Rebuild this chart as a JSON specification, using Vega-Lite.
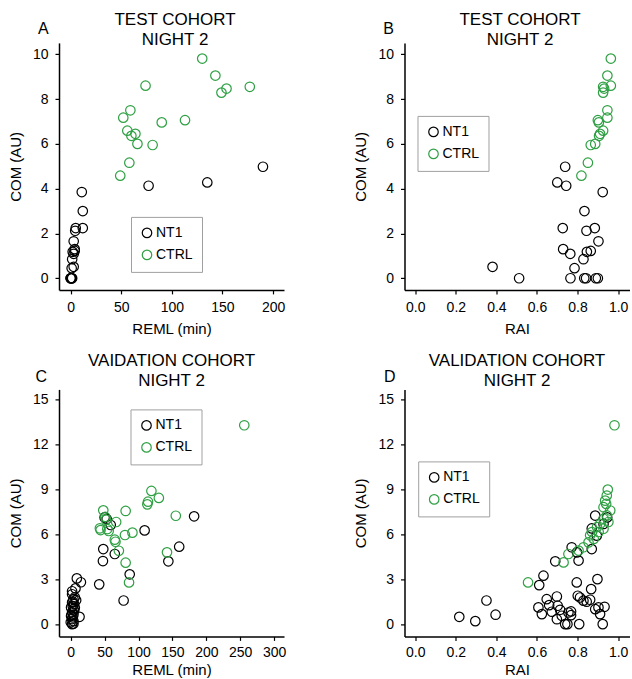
{
  "$schema": "https://vega.github.io/schema/vega-lite/v6.json",
  "padding": {"left": 8, "top": 10.9, "right": 0, "bottom": 0},
  "config": {
    "font": "Liberation Sans",
    "view": {"stroke": null},
    "axis": {"domainColor": "#000", "domainWidth": 1.5, "tickColor": "#000", "tickWidth": 1.2, "tickSize": 4, "labelFont": "Liberation Sans", "labelFontSize": 14, "labelColor": "#000", "labelPadding": 7, "titleFont": "Liberation Sans", "titleFontSize": 15, "titleFontWeight": "normal", "titleColor": "#000", "grid": false, "labelFlush": false, "labelOverlap": false},
    "axisX": {"titlePadding": 7},
    "axisY": {"titlePadding": 9},
    "title": {"font": "Liberation Sans", "fontSize": 17, "fontWeight": "normal", "color": "#000", "lineHeight": 20, "frame": "group", "anchor": "middle"},
    "legend": {"labelFont": "Liberation Sans", "labelFontSize": 14, "labelColor": "#000", "symbolType": "circle", "symbolSize": 90, "symbolStrokeWidth": 1.2, "fillColor": "#fff", "strokeColor": "#a0a0a0", "padding": 9, "rowPadding": 6, "labelOffset": 2}
  },
  "datasets": {
    "test": [
      {"g": "NT1", "REML": 190, "RAI": 0.739, "COM": 4.98},
      {"g": "NT1", "REML": 135, "RAI": 0.700, "COM": 4.28},
      {"g": "NT1", "REML": 77, "RAI": 0.744, "COM": 4.13},
      {"g": "NT1", "REML": 11, "RAI": 0.924, "COM": 3.85},
      {"g": "NT1", "REML": 12, "RAI": 0.834, "COM": 3.00},
      {"g": "NT1", "REML": 12, "RAI": 0.727, "COM": 2.24},
      {"g": "NT1", "REML": 5, "RAI": 0.885, "COM": 2.24},
      {"g": "NT1", "REML": 4.5, "RAI": 0.844, "COM": 2.12},
      {"g": "NT1", "REML": 3, "RAI": 0.903, "COM": 1.65},
      {"g": "NT1", "REML": 4, "RAI": 0.729, "COM": 1.30},
      {"g": "NT1", "REML": 4, "RAI": 0.865, "COM": 1.22},
      {"g": "NT1", "REML": 2, "RAI": 0.846, "COM": 1.18},
      {"g": "NT1", "REML": 3, "RAI": 0.764, "COM": 1.09},
      {"g": "NT1", "REML": 1.5, "RAI": 0.829, "COM": 0.85},
      {"g": "NT1", "REML": 3, "RAI": 0.381, "COM": 0.51},
      {"g": "NT1", "REML": 1, "RAI": 0.785, "COM": 0.45},
      {"g": "NT1", "REML": 0, "RAI": 0.512, "COM": 0},
      {"g": "NT1", "REML": 1, "RAI": 0.765, "COM": 0},
      {"g": "NT1", "REML": 0.5, "RAI": 0.833, "COM": 0},
      {"g": "NT1", "REML": 1.5, "RAI": 0.842, "COM": 0},
      {"g": "NT1", "REML": 0, "RAI": 0.890, "COM": 0},
      {"g": "NT1", "REML": 1, "RAI": 0.900, "COM": 0},
      {"g": "CTRL", "REML": 130, "RAI": 0.964, "COM": 9.81},
      {"g": "CTRL", "REML": 143, "RAI": 0.947, "COM": 9.05},
      {"g": "CTRL", "REML": 74, "RAI": 0.964, "COM": 8.60},
      {"g": "CTRL", "REML": 177, "RAI": 0.926, "COM": 8.55},
      {"g": "CTRL", "REML": 154, "RAI": 0.931, "COM": 8.47},
      {"g": "CTRL", "REML": 149, "RAI": 0.926, "COM": 8.29},
      {"g": "CTRL", "REML": 59, "RAI": 0.947, "COM": 7.50},
      {"g": "CTRL", "REML": 52, "RAI": 0.947, "COM": 7.17},
      {"g": "CTRL", "REML": 113, "RAI": 0.900, "COM": 7.06},
      {"g": "CTRL", "REML": 90, "RAI": 0.905, "COM": 6.96},
      {"g": "CTRL", "REML": 56, "RAI": 0.926, "COM": 6.59},
      {"g": "CTRL", "REML": 64, "RAI": 0.911, "COM": 6.45},
      {"g": "CTRL", "REML": 60, "RAI": 0.906, "COM": 6.36},
      {"g": "CTRL", "REML": 66, "RAI": 0.887, "COM": 6.00},
      {"g": "CTRL", "REML": 81, "RAI": 0.865, "COM": 5.95},
      {"g": "CTRL", "REML": 58, "RAI": 0.851, "COM": 5.16},
      {"g": "CTRL", "REML": 49, "RAI": 0.819, "COM": 4.58}
    ],
    "valC": [
      {"g": "NT1", "REML": 182, "COM": 7.21},
      {"g": "NT1", "REML": 109, "COM": 6.27},
      {"g": "NT1", "REML": 50, "COM": 7.14},
      {"g": "NT1", "REML": 53, "COM": 7.03},
      {"g": "NT1", "REML": 59, "COM": 6.63},
      {"g": "NT1", "REML": 160, "COM": 5.18},
      {"g": "NT1", "REML": 48, "COM": 5.02},
      {"g": "NT1", "REML": 65, "COM": 4.69},
      {"g": "NT1", "REML": 47.5, "COM": 4.22},
      {"g": "NT1", "REML": 144, "COM": 4.20},
      {"g": "NT1", "REML": 87, "COM": 3.33},
      {"g": "NT1", "REML": 42, "COM": 2.66},
      {"g": "NT1", "REML": 78, "COM": 1.58},
      {"g": "NT1", "REML": 9, "COM": 3.06},
      {"g": "NT1", "REML": 15, "COM": 2.8},
      {"g": "NT1", "REML": 7, "COM": 2.39},
      {"g": "NT1", "REML": 2, "COM": 2.2},
      {"g": "NT1", "REML": 2, "COM": 2.0},
      {"g": "NT1", "REML": 6, "COM": 1.8},
      {"g": "NT1", "REML": 4, "COM": 1.67},
      {"g": "NT1", "REML": 8, "COM": 1.6},
      {"g": "NT1", "REML": 3, "COM": 1.5},
      {"g": "NT1", "REML": 2, "COM": 1.45},
      {"g": "NT1", "REML": 5, "COM": 1.34},
      {"g": "NT1", "REML": 3, "COM": 1.2},
      {"g": "NT1", "REML": 0.5, "COM": 1.12},
      {"g": "NT1", "REML": 4, "COM": 1.0},
      {"g": "NT1", "REML": 5, "COM": 0.9},
      {"g": "NT1", "REML": 2, "COM": 0.79},
      {"g": "NT1", "REML": 4, "COM": 0.63},
      {"g": "NT1", "REML": 0.5, "COM": 0.55},
      {"g": "NT1", "REML": 13, "COM": 0.49},
      {"g": "NT1", "REML": 2, "COM": 0.34},
      {"g": "NT1", "REML": 4, "COM": 0.2},
      {"g": "NT1", "REML": 0, "COM": 0.12},
      {"g": "NT1", "REML": 2, "COM": 0},
      {"g": "NT1", "REML": 4, "COM": 0.03},
      {"g": "NT1", "REML": 1, "COM": 0.6},
      {"g": "NT1", "REML": 6, "COM": 1.1},
      {"g": "NT1", "REML": 3, "COM": 0.45},
      {"g": "CTRL", "REML": 256, "COM": 13.30},
      {"g": "CTRL", "REML": 119, "COM": 8.91},
      {"g": "CTRL", "REML": 114, "COM": 8.19},
      {"g": "CTRL", "REML": 113, "COM": 8.01},
      {"g": "CTRL", "REML": 130, "COM": 8.44},
      {"g": "CTRL", "REML": 48, "COM": 7.61},
      {"g": "CTRL", "REML": 81, "COM": 7.57},
      {"g": "CTRL", "REML": 155, "COM": 7.25},
      {"g": "CTRL", "REML": 51, "COM": 7.17},
      {"g": "CTRL", "REML": 52, "COM": 6.99},
      {"g": "CTRL", "REML": 67, "COM": 6.83},
      {"g": "CTRL", "REML": 43, "COM": 6.41},
      {"g": "CTRL", "REML": 44, "COM": 6.29},
      {"g": "CTRL", "REML": 56, "COM": 6.23},
      {"g": "CTRL", "REML": 54, "COM": 6.36},
      {"g": "CTRL", "REML": 91, "COM": 6.12},
      {"g": "CTRL", "REML": 80, "COM": 5.96},
      {"g": "CTRL", "REML": 65, "COM": 5.65},
      {"g": "CTRL", "REML": 66, "COM": 5.51},
      {"g": "CTRL", "REML": 71, "COM": 4.91},
      {"g": "CTRL", "REML": 142, "COM": 4.80},
      {"g": "CTRL", "REML": 81, "COM": 4.11},
      {"g": "CTRL", "REML": 86, "COM": 2.79}
    ],
    "valD": [
      {"g": "NT1", "RAI": 0.217, "COM": 0.49},
      {"g": "NT1", "RAI": 0.296, "COM": 0.20},
      {"g": "NT1", "RAI": 0.351, "COM": 1.58},
      {"g": "NT1", "RAI": 0.396, "COM": 0.63},
      {"g": "NT1", "RAI": 0.607, "COM": 1.12},
      {"g": "NT1", "RAI": 0.611, "COM": 2.61},
      {"g": "NT1", "RAI": 0.624, "COM": 0.67},
      {"g": "NT1", "RAI": 0.632, "COM": 3.24},
      {"g": "NT1", "RAI": 0.648, "COM": 1.67},
      {"g": "NT1", "RAI": 0.660, "COM": 1.27},
      {"g": "NT1", "RAI": 0.673, "COM": 0.83},
      {"g": "NT1", "RAI": 0.690, "COM": 4.20},
      {"g": "NT1", "RAI": 0.698, "COM": 1.85},
      {"g": "NT1", "RAI": 0.698, "COM": 0.33},
      {"g": "NT1", "RAI": 0.702, "COM": 1.23},
      {"g": "NT1", "RAI": 0.714, "COM": 0.96},
      {"g": "NT1", "RAI": 0.722, "COM": 0.56},
      {"g": "NT1", "RAI": 0.739, "COM": 0.0},
      {"g": "NT1", "RAI": 0.750, "COM": 0.0},
      {"g": "NT1", "RAI": 0.755, "COM": 0.78},
      {"g": "NT1", "RAI": 0.768, "COM": 0.60},
      {"g": "NT1", "RAI": 0.768, "COM": 0.85},
      {"g": "NT1", "RAI": 0.771, "COM": 5.14},
      {"g": "NT1", "RAI": 0.796, "COM": 2.79},
      {"g": "NT1", "RAI": 0.797, "COM": 4.80},
      {"g": "NT1", "RAI": 0.801, "COM": 1.90},
      {"g": "NT1", "RAI": 0.805, "COM": 4.25},
      {"g": "NT1", "RAI": 0.808, "COM": 0.0},
      {"g": "NT1", "RAI": 0.812, "COM": 1.78},
      {"g": "NT1", "RAI": 0.829, "COM": 1.57},
      {"g": "NT1", "RAI": 0.845, "COM": 1.50},
      {"g": "NT1", "RAI": 0.862, "COM": 1.63},
      {"g": "NT1", "RAI": 0.867, "COM": 2.34},
      {"g": "NT1", "RAI": 0.870, "COM": 5.02},
      {"g": "NT1", "RAI": 0.870, "COM": 6.40},
      {"g": "NT1", "RAI": 0.887, "COM": 7.26},
      {"g": "NT1", "RAI": 0.887, "COM": 1.0},
      {"g": "NT1", "RAI": 0.895, "COM": 5.92},
      {"g": "NT1", "RAI": 0.898, "COM": 3.01},
      {"g": "NT1", "RAI": 0.903, "COM": 1.12},
      {"g": "NT1", "RAI": 0.911, "COM": 0.67},
      {"g": "NT1", "RAI": 0.924, "COM": 0.0},
      {"g": "NT1", "RAI": 0.928, "COM": 6.70},
      {"g": "NT1", "RAI": 0.933, "COM": 1.16},
      {"g": "NT1", "RAI": 0.946, "COM": 7.14},
      {"g": "CTRL", "RAI": 0.982, "COM": 13.3},
      {"g": "CTRL", "RAI": 0.949, "COM": 9.0},
      {"g": "CTRL", "RAI": 0.944, "COM": 8.6},
      {"g": "CTRL", "RAI": 0.936, "COM": 8.26},
      {"g": "CTRL", "RAI": 0.941, "COM": 8.04},
      {"g": "CTRL", "RAI": 0.928, "COM": 7.82},
      {"g": "CTRL", "RAI": 0.961, "COM": 7.6},
      {"g": "CTRL", "RAI": 0.944, "COM": 7.27},
      {"g": "CTRL", "RAI": 0.928, "COM": 7.05},
      {"g": "CTRL", "RAI": 0.952, "COM": 6.83},
      {"g": "CTRL", "RAI": 0.912, "COM": 6.71},
      {"g": "CTRL", "RAI": 0.896, "COM": 6.49},
      {"g": "CTRL", "RAI": 0.928, "COM": 6.38},
      {"g": "CTRL", "RAI": 0.904, "COM": 6.16},
      {"g": "CTRL", "RAI": 0.871, "COM": 6.16},
      {"g": "CTRL", "RAI": 0.880, "COM": 5.70},
      {"g": "CTRL", "RAI": 0.862, "COM": 5.94},
      {"g": "CTRL", "RAI": 0.854, "COM": 5.47},
      {"g": "CTRL", "RAI": 0.829, "COM": 5.14},
      {"g": "CTRL", "RAI": 0.805, "COM": 4.92},
      {"g": "CTRL", "RAI": 0.755, "COM": 4.69},
      {"g": "CTRL", "RAI": 0.731, "COM": 4.13},
      {"g": "CTRL", "RAI": 0.556, "COM": 2.79}
    ]
  },
  "columns": 2,
  "spacing": {"row": 99.5, "column": 120.5},
  "bounds": "flush",
  "resolve": {"legend": {"color": "independent"}},
  "concat": [
    {
      "width": 225, "height": 247,
      "title": {"text": ["TEST COHORT", "NIGHT 2"], "dx": 3.5, "offset": -28.5},
      "data": {"name": "test"},
      "layer": [
        {
          "mark": {"type": "point", "shape": "circle", "size": 90, "strokeWidth": 1.2, "filled": false, "opacity": 1},
          "encoding": {
            "x": {"field": "REML", "type": "quantitative", "scale": {"domain": [-11.5, 210.8], "nice": false, "zero": false}, "axis": {"values": [0, 50, 100, 150, 200], "title": "REML (min)"}},
            "y": {"field": "COM", "type": "quantitative", "scale": {"domain": [-0.52, 10.51], "nice": false, "zero": false}, "axis": {"values": [0, 2, 4, 6, 8, 10], "title": "COM (AU)"}},
            "color": {"field": "g", "type": "nominal", "scale": {"domain": ["NT1", "CTRL"], "range": ["#000000", "#2ea043"]}, "legend": {"title": null, "orient": "none", "legendX": 72, "legendY": 174}}
          }
        },
        {
          "transform": [{"filter": "false"}],
          "mark": "point",
          "encoding": {
            "x": {"field": "REML", "type": "quantitative", "axis": {"orient": "top", "domain": false, "ticks": false, "labels": false, "title": "A", "titleFontSize": 16, "titleX": -21.5, "titleY": -9, "titleAlign": "left", "titleBaseline": "alphabetic", "titleAngle": 0}}
          }
        }
      ],
      "resolve": {"axis": {"x": "independent"}}
    },
    {
      "width": 225, "height": 247,
      "title": {"text": ["TEST COHORT", "NIGHT 2"], "dx": 3, "offset": -28.5},
      "data": {"name": "test"},
      "layer": [
        {
          "mark": {"type": "point", "shape": "circle", "size": 90, "strokeWidth": 1.2, "filled": false, "opacity": 1},
          "encoding": {
            "x": {"field": "RAI", "type": "quantitative", "scale": {"domain": [-0.053, 1.056], "nice": false, "zero": false}, "axis": {"values": [0, 0.2, 0.4, 0.6, 0.8, 1.0], "format": ".1f", "title": "RAI"}},
            "y": {"field": "COM", "type": "quantitative", "scale": {"domain": [-0.52, 10.51], "nice": false, "zero": false}, "axis": {"values": [0, 2, 4, 6, 8, 10], "title": "COM (AU)"}},
            "color": {"field": "g", "type": "nominal", "scale": {"domain": ["NT1", "CTRL"], "range": ["#000000", "#2ea043"]}, "legend": {"title": null, "orient": "none", "legendX": 13, "legendY": 73}}
          }
        },
        {
          "transform": [{"filter": "false"}],
          "mark": "point",
          "encoding": {
            "x": {"field": "RAI", "type": "quantitative", "axis": {"orient": "top", "domain": false, "ticks": false, "labels": false, "title": "B", "titleFontSize": 16, "titleX": -21.7, "titleY": -9, "titleAlign": "left", "titleBaseline": "alphabetic", "titleAngle": 0}}
          }
        }
      ],
      "resolve": {"axis": {"x": "independent"}}
    },
    {
      "width": 225, "height": 247,
      "title": {"text": ["VAIDATION COHORT", "NIGHT 2"], "dx": 0, "offset": -22},
      "data": {"name": "valC"},
      "layer": [
        {
          "mark": {"type": "point", "shape": "circle", "size": 90, "strokeWidth": 1.2, "filled": false, "opacity": 1},
          "encoding": {
            "x": {"field": "REML", "type": "quantitative", "scale": {"domain": [-17.3, 314.6], "nice": false, "zero": false}, "axis": {"values": [0, 50, 100, 150, 200, 250, 300], "title": "REML (min)", "labelPadding": 5, "titlePadding": 3.5}},
            "y": {"field": "COM", "type": "quantitative", "scale": {"domain": [-0.82, 15.7], "nice": false, "zero": false}, "axis": {"values": [0, 3, 6, 9, 12, 15], "title": "COM (AU)"}},
            "color": {"field": "g", "type": "nominal", "scale": {"domain": ["NT1", "CTRL"], "range": ["#000000", "#2ea043"]}, "legend": {"title": null, "orient": "none", "legendX": 71.5, "legendY": 20}}
          }
        },
        {
          "transform": [{"filter": "false"}],
          "mark": "point",
          "encoding": {
            "x": {"field": "REML", "type": "quantitative", "axis": {"orient": "top", "domain": false, "ticks": false, "labels": false, "title": "C", "titleFontSize": 16, "titleX": -24, "titleY": -8, "titleAlign": "left", "titleBaseline": "alphabetic", "titleAngle": 0}}
          }
        }
      ],
      "resolve": {"axis": {"x": "independent"}}
    },
    {
      "width": 225, "height": 247,
      "title": {"text": ["VALIDATION COHORT", "NIGHT 2"], "dx": 0, "offset": -22},
      "data": {"name": "valD"},
      "layer": [
        {
          "mark": {"type": "point", "shape": "circle", "size": 90, "strokeWidth": 1.2, "filled": false, "opacity": 1},
          "encoding": {
            "x": {"field": "RAI", "type": "quantitative", "scale": {"domain": [-0.053, 1.056], "nice": false, "zero": false}, "axis": {"values": [0, 0.2, 0.4, 0.6, 0.8, 1.0], "format": ".1f", "title": "RAI", "labelPadding": 5, "titlePadding": 3.5}},
            "y": {"field": "COM", "type": "quantitative", "scale": {"domain": [-0.82, 15.7], "nice": false, "zero": false}, "axis": {"values": [0, 3, 6, 9, 12, 15], "title": "COM (AU)"}},
            "color": {"field": "g", "type": "nominal", "scale": {"domain": ["NT1", "CTRL"], "range": ["#000000", "#2ea043"]}, "legend": {"title": null, "orient": "none", "legendX": 13.7, "legendY": 72}}
          }
        },
        {
          "transform": [{"filter": "false"}],
          "mark": "point",
          "encoding": {
            "x": {"field": "RAI", "type": "quantitative", "axis": {"orient": "top", "domain": false, "ticks": false, "labels": false, "title": "D", "titleFontSize": 16, "titleX": -21, "titleY": -8, "titleAlign": "left", "titleBaseline": "alphabetic", "titleAngle": 0}}
          }
        }
      ],
      "resolve": {"axis": {"x": "independent"}}
    }
  ]
}
